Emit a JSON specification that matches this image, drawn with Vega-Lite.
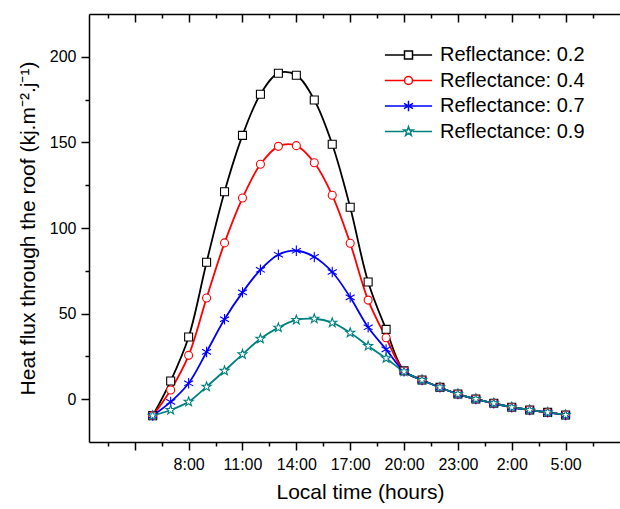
{
  "$schema": "https://vega.github.io/schema/vega-lite/v6.json",
  "autosize": {"type": "none"},
  "padding": {"left": 89, "top": 14, "right": 0, "bottom": 67},
  "width": 531,
  "height": 428,
  "background": "white",
  "config": {
    "view": {"stroke": null},
    "font": "Liberation Sans",
    "axis": {
      "grid": false,
      "domainColor": "black",
      "domainWidth": 1.5,
      "tickColor": "black",
      "tickWidth": 1.5,
      "labelColor": "black",
      "titleColor": "black",
      "labelFont": "Liberation Sans",
      "titleFont": "Liberation Sans",
      "labelFontSize": 16,
      "titleFontSize": 21,
      "titleFontWeight": "normal",
      "labelOverlap": false,
      "labelBound": false,
      "labelFlush": false
    },
    "legend": {
      "title": null,
      "orient": "none",
      "legendX": 309.5,
      "legendY": 31,
      "padding": 0,
      "symbolSize": 64,
      "symbolOpacity": 1,
      "symbolFillColor": "white",
      "symbolStrokeWidth": 1.5,
      "labelOffset": 21.5,
      "labelFontSize": 20,
      "labelFont": "Liberation Sans",
      "labelColor": "black",
      "labelLimit": 0,
      "rowPadding": 5.5
    }
  },
  "data": {
    "values": [
      {"h": 6, "s": "0.2", "v": -9.6}, {"h": 7, "s": "0.2", "v": 10.6}, {"h": 8, "s": "0.2", "v": 36.3}, {"h": 9, "s": "0.2", "v": 80.0},
      {"h": 10, "s": "0.2", "v": 121.2}, {"h": 11, "s": "0.2", "v": 154.1}, {"h": 12, "s": "0.2", "v": 178.1}, {"h": 13, "s": "0.2", "v": 190.4},
      {"h": 14, "s": "0.2", "v": 189.2}, {"h": 15, "s": "0.2", "v": 174.8}, {"h": 16, "s": "0.2", "v": 148.9}, {"h": 17, "s": "0.2", "v": 112.1},
      {"h": 18, "s": "0.2", "v": 68.5}, {"h": 19, "s": "0.2", "v": 40.8}, {"h": 20, "s": "0.2", "v": 16.6}, {"h": 21, "s": "0.2", "v": 11.2},
      {"h": 22, "s": "0.2", "v": 6.9}, {"h": 23, "s": "0.2", "v": 3.0}, {"h": 24, "s": "0.2", "v": 0.1}, {"h": 25, "s": "0.2", "v": -2.4},
      {"h": 26, "s": "0.2", "v": -4.7}, {"h": 27, "s": "0.2", "v": -6.3}, {"h": 28, "s": "0.2", "v": -7.7}, {"h": 29, "s": "0.2", "v": -9.2},

      {"h": 6, "s": "0.4", "v": -9.6}, {"h": 7, "s": "0.4", "v": 5.4}, {"h": 8, "s": "0.4", "v": 25.6}, {"h": 9, "s": "0.4", "v": 59.1},
      {"h": 10, "s": "0.4", "v": 91.3}, {"h": 11, "s": "0.4", "v": 117.5}, {"h": 12, "s": "0.4", "v": 137.2}, {"h": 13, "s": "0.4", "v": 147.7},
      {"h": 14, "s": "0.4", "v": 148.1}, {"h": 15, "s": "0.4", "v": 138.1}, {"h": 16, "s": "0.4", "v": 119.1}, {"h": 17, "s": "0.4", "v": 91.1},
      {"h": 18, "s": "0.4", "v": 57.9}, {"h": 19, "s": "0.4", "v": 35.9}, {"h": 20, "s": "0.4", "v": 16.5}, {"h": 21, "s": "0.4", "v": 11.2},
      {"h": 22, "s": "0.4", "v": 6.9}, {"h": 23, "s": "0.4", "v": 3.0}, {"h": 24, "s": "0.4", "v": 0.1}, {"h": 25, "s": "0.4", "v": -2.4},
      {"h": 26, "s": "0.4", "v": -4.7}, {"h": 27, "s": "0.4", "v": -6.3}, {"h": 28, "s": "0.4", "v": -7.7}, {"h": 29, "s": "0.4", "v": -9.2},

      {"h": 6, "s": "0.7", "v": -9.6}, {"h": 7, "s": "0.7", "v": -1.6}, {"h": 8, "s": "0.7", "v": 9.3}, {"h": 9, "s": "0.7", "v": 27.6},
      {"h": 10, "s": "0.7", "v": 46.7}, {"h": 11, "s": "0.7", "v": 62.4}, {"h": 12, "s": "0.7", "v": 75.6}, {"h": 13, "s": "0.7", "v": 84.4},
      {"h": 14, "s": "0.7", "v": 86.7}, {"h": 15, "s": "0.7", "v": 83.1}, {"h": 16, "s": "0.7", "v": 74.3}, {"h": 17, "s": "0.7", "v": 59.5},
      {"h": 18, "s": "0.7", "v": 42.0}, {"h": 19, "s": "0.7", "v": 29.1}, {"h": 20, "s": "0.7", "v": 16.3}, {"h": 21, "s": "0.7", "v": 11.2},
      {"h": 22, "s": "0.7", "v": 6.9}, {"h": 23, "s": "0.7", "v": 3.0}, {"h": 24, "s": "0.7", "v": 0.1}, {"h": 25, "s": "0.7", "v": -2.4},
      {"h": 26, "s": "0.7", "v": -4.7}, {"h": 27, "s": "0.7", "v": -6.3}, {"h": 28, "s": "0.7", "v": -7.7}, {"h": 29, "s": "0.7", "v": -9.2},

      {"h": 6, "s": "0.9", "v": -9.6}, {"h": 7, "s": "0.9", "v": -6.3}, {"h": 8, "s": "0.9", "v": -1.5}, {"h": 9, "s": "0.9", "v": 7.3},
      {"h": 10, "s": "0.9", "v": 16.6}, {"h": 11, "s": "0.9", "v": 26.2}, {"h": 12, "s": "0.9", "v": 35.3}, {"h": 13, "s": "0.9", "v": 41.8},
      {"h": 14, "s": "0.9", "v": 46.3}, {"h": 15, "s": "0.9", "v": 47.0}, {"h": 16, "s": "0.9", "v": 44.7}, {"h": 17, "s": "0.9", "v": 38.8},
      {"h": 18, "s": "0.9", "v": 31.1}, {"h": 19, "s": "0.9", "v": 23.9}, {"h": 20, "s": "0.9", "v": 16.1}, {"h": 21, "s": "0.9", "v": 11.2},
      {"h": 22, "s": "0.9", "v": 6.9}, {"h": 23, "s": "0.9", "v": 3.0}, {"h": 24, "s": "0.9", "v": 0.1}, {"h": 25, "s": "0.9", "v": -2.4},
      {"h": 26, "s": "0.9", "v": -4.7}, {"h": 27, "s": "0.9", "v": -6.3}, {"h": 28, "s": "0.9", "v": -7.7}, {"h": 29, "s": "0.9", "v": -9.2}
    ]
  },
  "layer": [
    {
      "transform": [{"filter": "datum.h == 6"}],
      "mark": {"type": "point", "filled": false, "fill": "white", "size": 0, "strokeWidth": 1.5},
      "encoding": {
        "x": {"field": "h", "type": "quantitative", "axis": null},
        "y": {"field": "v", "type": "quantitative"},
        "stroke": {
          "field": "s", "type": "nominal",
          "scale": {"domain": ["0.2", "0.4", "0.7", "0.9"], "range": ["#000000", "#FF0000", "#0000FF", "#008080"]},
          "legend": {"labelExpr": "'Reflectance: ' + datum.label"}
        },
        "shape": {
          "field": "s", "type": "nominal",
          "scale": {
            "domain": ["0.2", "0.4", "0.7", "0.9"],
            "range": [
              "M-5.9,0H-1M1,0H5.9M-1,-1H1V1H-1Z",
              "M-5.9,0H-1M1,0H5.9M1,0A1,1,0,1,1,-1,0A1,1,0,1,1,1,0Z",
              "M-5.9,0H5.9M0,-1.3V1.3M-1.13,-0.65L1.13,0.65M-1.13,0.65L1.13,-0.65",
              "M-5.9,0H-1.1M1.1,0H5.9M0,-1.2L0.28,-0.39L1.14,-0.37L0.46,0.15L0.71,0.97L0,0.48L-0.71,0.97L-0.46,0.15L-1.14,-0.37L-0.28,-0.39Z"
            ]
          },
          "legend": {"labelExpr": "'Reflectance: ' + datum.label"}
        }
      }
    },
    {
      "mark": {"type": "line", "interpolate": "catmull-rom", "strokeWidth": 1.8, "clip": true},
      "encoding": {
        "x": {
          "field": "h", "type": "quantitative",
          "scale": {"domain": [2.45, 32.03], "nice": false, "zero": false},
          "axis": {
            "orient": "bottom",
            "values": [3.5, 5, 6.5, 8, 9.5, 11, 12.5, 14, 15.5, 17, 18.5, 20, 21.5, 23, 24.5, 26, 27.5, 29, 30.5],
            "labelExpr": "datum.value % 3 == 2 && datum.value >= 8 ? (datum.value % 24) + ':00' : ''",
            "tickSize": {"condition": {"test": "datum.value % 3 == 2", "value": 8}, "value": 4},
            "labelPadding": 6,
            "title": "Local time (hours)",
            "titlePadding": 9,
            "titleX": 271
          }
        },
        "y": {
          "field": "v", "type": "quantitative",
          "scale": {"domain": [-25, 225], "nice": false, "zero": false},
          "axis": {
            "values": [0, 25, 50, 75, 100, 125, 150, 175, 200],
            "labelExpr": "datum.value % 50 == 0 ? datum.label : ''",
            "tickSize": {"condition": {"test": "datum.value % 50 == 0", "value": 8}, "value": 4},
            "labelPadding": 5,
            "title": "Heat flux through the roof (kj.m⁻².j⁻¹)",
            "titlePadding": 11
          }
        },
        "color": {
          "field": "s", "type": "nominal",
          "scale": {"domain": ["0.2", "0.4", "0.7", "0.9"], "range": ["#000000", "#FF0000", "#0000FF", "#008080"]},
          "legend": null
        },
        "order": {"field": "s"}
      }
    },
    {
      "mark": {"type": "point", "filled": false, "fill": "white", "strokeWidth": 1.1, "size": 64, "opacity": 1, "clip": true},
      "encoding": {
        "x": {
          "field": "h", "type": "quantitative",
          "axis": {
            "orient": "top",
            "values": [3.5, 5, 6.5, 8, 9.5, 11, 12.5, 14, 15.5, 17, 18.5, 20, 21.5, 23, 24.5, 26, 27.5, 29, 30.5],
            "labels": false,
            "tickSize": {"condition": {"test": "datum.value % 3 == 2", "value": -8}, "value": -4},
            "title": null
          }
        },
        "y": {"field": "v", "type": "quantitative"},
        "color": {"field": "s", "type": "nominal", "legend": null},
        "shape": {
          "field": "s", "type": "nominal",
          "scale": {
            "domain": ["0.2", "0.4", "0.7", "0.9"],
            "range": [
              "square",
              "circle",
              "M0,-1.3V1.3M-1.13,-0.65L1.13,0.65M-1.13,0.65L1.13,-0.65",
              "M0,-1.2L0.28,-0.39L1.14,-0.37L0.46,0.15L0.71,0.97L0,0.48L-0.71,0.97L-0.46,0.15L-1.14,-0.37L-0.28,-0.39Z"
            ]
          },
          "legend": null
        }
      }
    }
  ],
  "resolve": {"scale": {"shape": "independent", "stroke": "independent"}, "axis": {"x": "independent"}}
}
